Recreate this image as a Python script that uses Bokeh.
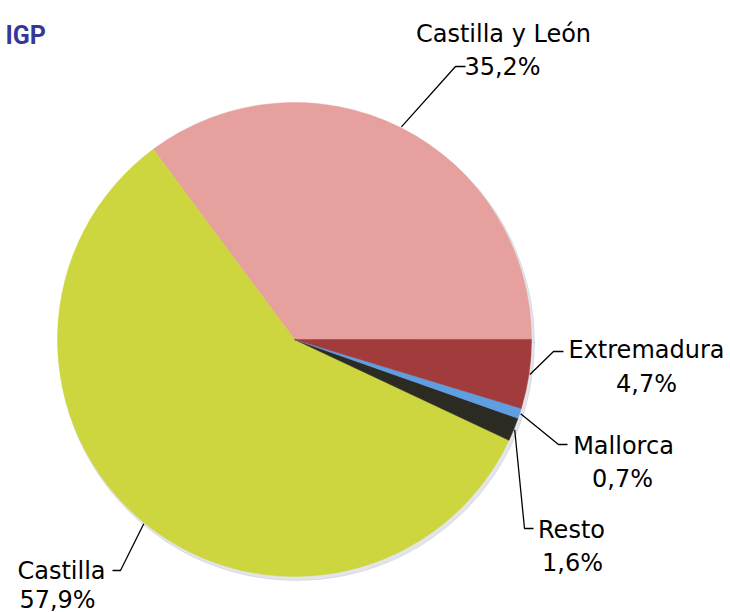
import math
from bokeh.plotting import figure
from bokeh.models import Range1d, ColumnDataSource
from bokeh.core.properties import value
from bokeh.embed import file_html
from bokeh.resources import INLINE

# ---- data ----
categories = ["Castilla y León", "Castilla", "Resto", "Mallorca", "Extremadura"]
shares = [35.2, 57.9, 1.6, 0.7, 4.7]
title_text = "IGP"

# ---- styles / layout ----
colors = ["#E6A09E", "#CDD63F", "#2B2B24", "#5F9EE0", "#A23B3B"]
W, H = 730, 612
cx, cy_scr, R = 294, 339, 237
# label layout (screen px): name centre x, name baseline y, pct centre x, pct baseline y
label_layout = {
    "Castilla y León": (503, 33, 502, 66),
    "Castilla": (61, 570, 57, 599),
    "Resto": (571, 529, 572, 562),
    "Mallorca": (623, 445, 622, 478),
    "Extremadura": (646, 349, 646, 383),
}
# leader elbow and end (screen px)
leader_layout = {
    "Castilla y León": ((455, 66), (465, 66)),
    "Castilla": ((120, 570), (112, 570)),
    "Resto": ((524, 528), (533, 528)),
    "Mallorca": ((558, 444), (567, 444)),
    "Extremadura": ((553, 351), (563, 351)),
}

def Y(sy):
    return H - sy

p = figure(width=W, height=H, output_backend="svg", toolbar_location=None,
           x_range=Range1d(0, W), y_range=Range1d(0, H),
           min_border=0)
p.axis.visible = False
p.grid.visible = False
p.outline_line_color = None
p.background_fill_color = "white"

total = sum(shares)
starts, ends = [], []
a = 0.0
for s in shares:
    starts.append(a)
    a += s / total * 2 * math.pi
    ends.append(a)

src = ColumnDataSource(dict(start=starts, end=ends, color=colors, cat=categories))
# soft shadow
p.wedge(x=cx + 2, y=Y(cy_scr) - 3, radius=R + 1, start_angle=0, end_angle=2 * math.pi,
        color="#C8CCD8", alpha=0.5)
p.wedge(x=cx, y=Y(cy_scr), radius=R, start_angle="start", end_angle="end",
        fill_color="color", line_color="color", line_width=0.5, source=src)

xs, ys = [], []
nx, ny, px_, py_, names, pcts = [], [], [], [], [], []
for cat, s, st, en in zip(categories, shares, starts, ends):
    mid = (st + en) / 2
    x0 = cx + (R + 1) * math.cos(mid)
    y0 = Y(cy_scr) + (R + 1) * math.sin(mid)
    (ex, ey), (fx, fy) = leader_layout[cat]
    xs.append([x0, ex, fx])
    ys.append([y0, Y(ey), Y(fy)])
    a_, b_, c_, d_ = label_layout[cat]
    nx.append(a_); ny.append(Y(b_)); px_.append(c_); py_.append(Y(d_))
    names.append(cat)
    pcts.append(("%.1f" % s).replace(".", ",") + "%")

p.multi_line(xs=xs, ys=ys, line_color="black", line_width=1.3)
p.text(x=nx, y=ny, text=names, text_align="center", text_baseline="alphabetic",
       text_font=value("DejaVu Sans"), text_font_size="24px", text_color="black")
p.text(x=px_, y=py_, text=pcts, text_align="center", text_baseline="alphabetic",
       text_font=value("DejaVu Sans"), text_font_size="24px", text_color="black")
p.text(x=[5], y=[Y(35)], text=[title_text], text_align="left", text_baseline="alphabetic",
       text_font=value("Roboto"), text_font_style="bold", text_font_size="25px",
       text_color="#37379A")

open("out.html", "w").write(file_html(p, INLINE))
